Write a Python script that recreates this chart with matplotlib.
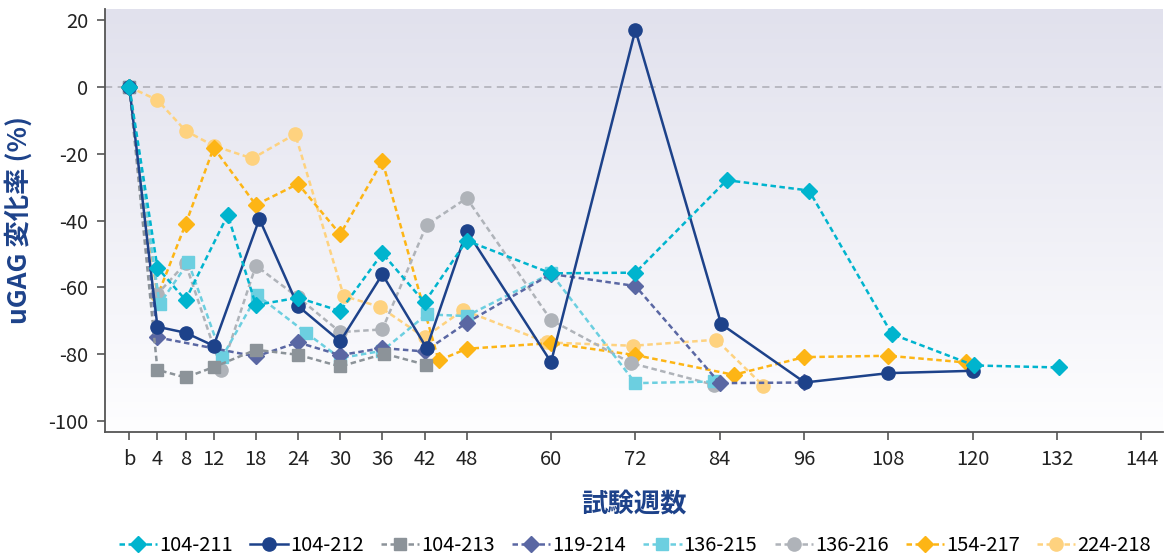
import numpy as np
import matplotlib
matplotlib.use("Agg")
import matplotlib.pyplot as plt

plt.rcParams['font.family'] = ['Noto Sans CJK JP', 'DejaVu Sans']

# ---- data: weeks on study and % change of uGAG from baseline ----
tick_weeks = [0, 4, 8, 12, 18, 24, 30, 36, 42, 48, 60, 72, 84, 96, 108, 120, 132, 144]
tick_labels = ['b', '4', '8', '12', '18', '24', '30', '36', '42', '48', '60', '72',
               '84', '96', '108', '120', '132', '144']

w_104_211 = [0, 4, 8, 14, 18, 24, 30, 36, 42, 48, 60, 72, 85, 96.7, 108.5, 120.2, 132.2]
v_104_211 = [0, -54.1, -63.8, -38.3, -65.3, -63.1, -67.1, -49.8, -64.5, -46.0, -55.8,
             -55.6, -27.9, -31.0, -74.0, -83.4, -84.0]

w_104_212 = [0, 4, 8, 12, 18.5, 24, 30, 36, 42.3, 48, 60, 72, 84.2, 96.1, 108, 120]
v_104_212 = [0, -71.8, -73.6, -77.5, -39.5, -65.6, -76.2, -56.1, -78.2, -43.1, -82.4,
             17.1, -71.0, -88.5, -85.7, -85.0]

w_104_213 = [0, 4, 8, 12, 18, 24, 30, 36.3, 42.2]
v_104_213 = [0, -84.7, -87.0, -83.9, -78.7, -80.2, -83.7, -79.9, -83.2]

w_119_214 = [0, 4, 18, 24, 30, 36, 42, 48, 60, 72, 84, 96]
v_119_214 = [0, -75.0, -80.7, -76.5, -80.3, -78.2, -79.2, -70.6, -56.0, -59.6, -88.7, -88.5]

w_136_215 = [0, 4.3, 8.4, 13.2, 18.2, 25.2, 30, 36, 42.3, 48, 60, 72, 83.2]
v_136_215 = [0, -65.0, -52.5, -80.9, -62.3, -73.7, -81.2, -79.0, -68.1, -68.6, -55.8,
             -88.7, -88.2]

w_136_216 = [0, 4, 8, 13.1, 18, 24, 30, 36, 42.3, 48, 60, 71.4, 83.2]
v_136_216 = [0, -62.0, -52.8, -84.7, -53.5, -63.0, -73.4, -72.6, -41.3, -33.3, -69.8,
             -82.7, -89.2]

w_154_217 = [0, 4, 8, 12, 18, 24, 30, 36, 44, 48, 60, 72, 86, 96, 108, 119]
v_154_217 = [0, -62.6, -41.1, -18.2, -35.3, -29.0, -44.1, -22.2, -81.9, -78.4, -76.7,
             -80.3, -86.2, -80.9, -80.5, -82.5]

w_224_218 = [0, 4, 8, 12, 17.5, 23.6, 30.5, 35.6, 42, 47.5, 59.4, 71.6, 83.5, 90.2]
v_224_218 = [0, -3.9, -13.1, -17.6, -21.4, -14.1, -62.6, -65.8, -75.0, -66.8, -76.5,
             -77.5, -75.7, -89.5]

labels = ['104-211', '104-212', '104-213', '119-214', '136-215', '136-216', '154-217', '224-218']
weeks = [w_104_211, w_104_212, w_104_213, w_119_214, w_136_215, w_136_216, w_154_217, w_224_218]
values = [v_104_211, v_104_212, v_104_213, v_119_214, v_136_215, v_136_216, v_154_217, v_224_218]
colors = ['#00B4CE', '#1D428A', '#8C9399', '#5A67A3', '#6CCFE0', '#AFB3B9', '#FDB515', '#FED27F']
markers = ['D', 'o', 's', 'D', 's', 'o', 'D', 'o']
styles = ['--', '-', '--', '--', '--', '--', '--', '--']
msizes = [8.5, 9.5, 8.5, 8.5, 8.5, 9.5, 8.5, 9.5]

fig = plt.figure(figsize=(11.65, 5.58), dpi=100)
ax = fig.add_axes([0.0899, 0.226, 0.908, 0.758])

xmin, xmax = -3.5, 147
ymin, ymax = -103.3, 23.4
ax.set_xlim(xmin, xmax)
ax.set_ylim(ymin, ymax)

# soft vertical gradient behind the plot
grad = np.linspace(0, 1, 256).reshape(-1, 1)
top = np.array([0xE1, 0xE1, 0xED]) / 255.0
bot = np.array([0xFE, 0xFE, 0xFF]) / 255.0
img = (bot[None, None, :] * (1 - grad[:, :, None]) + top[None, None, :] * grad[:, :, None])
ax.imshow(img, extent=[xmin, xmax, ymin, ymax], origin='lower', aspect='auto', zorder=0)

ax.axhline(0, color='#B5B5BE', lw=1.3, ls=(0, (4, 3)), zorder=1)

handles = []
n = len(labels)
for i in range(n):
    dash = (0, (2.2, 1.4)) if styles[i] == '--' else '-'
    ln, = ax.plot(weeks[i], values[i], color=colors[i], ls=dash, lw=1.8,
                  marker=markers[i], ms=msizes[i], mec=colors[i], mfc=colors[i],
                  zorder=10 + (n - i), label=labels[i])
    handles.append(ln)

ax.set_xticks(tick_weeks)
ax.set_xticklabels(tick_labels)
ax.set_yticks(np.arange(-100, 21, 20))
ax.set_yticklabels([str(v) for v in range(-100, 21, 20)])
ax.tick_params(axis='both', direction='out', length=6, width=1.2, color='#555555',
               labelsize=14.5, labelcolor='#222222', pad=6)
for s in ['top', 'right']:
    ax.spines[s].set_visible(False)
for s in ['left', 'bottom']:
    ax.spines[s].set_color('#555555')
    ax.spines[s].set_linewidth(1.3)

navy = '#1D428A'
ax.set_xlabel('試験週数', fontsize=19, fontweight='bold', color=navy, labelpad=16)
ax.set_ylabel('uGAG 変化率 (%)', fontsize=19, fontweight='bold', color=navy)
ax.yaxis.set_label_coords(-0.068, 0.5)

fig.legend(handles=handles, labels=labels, loc='center', bbox_to_anchor=(0.545, 0.022),
           ncol=8, frameon=False, fontsize=14.5, handlelength=1.9, handletextpad=0.1,
           columnspacing=0.85, markerscale=1.0)

fig.savefig('out.png', dpi=100)
